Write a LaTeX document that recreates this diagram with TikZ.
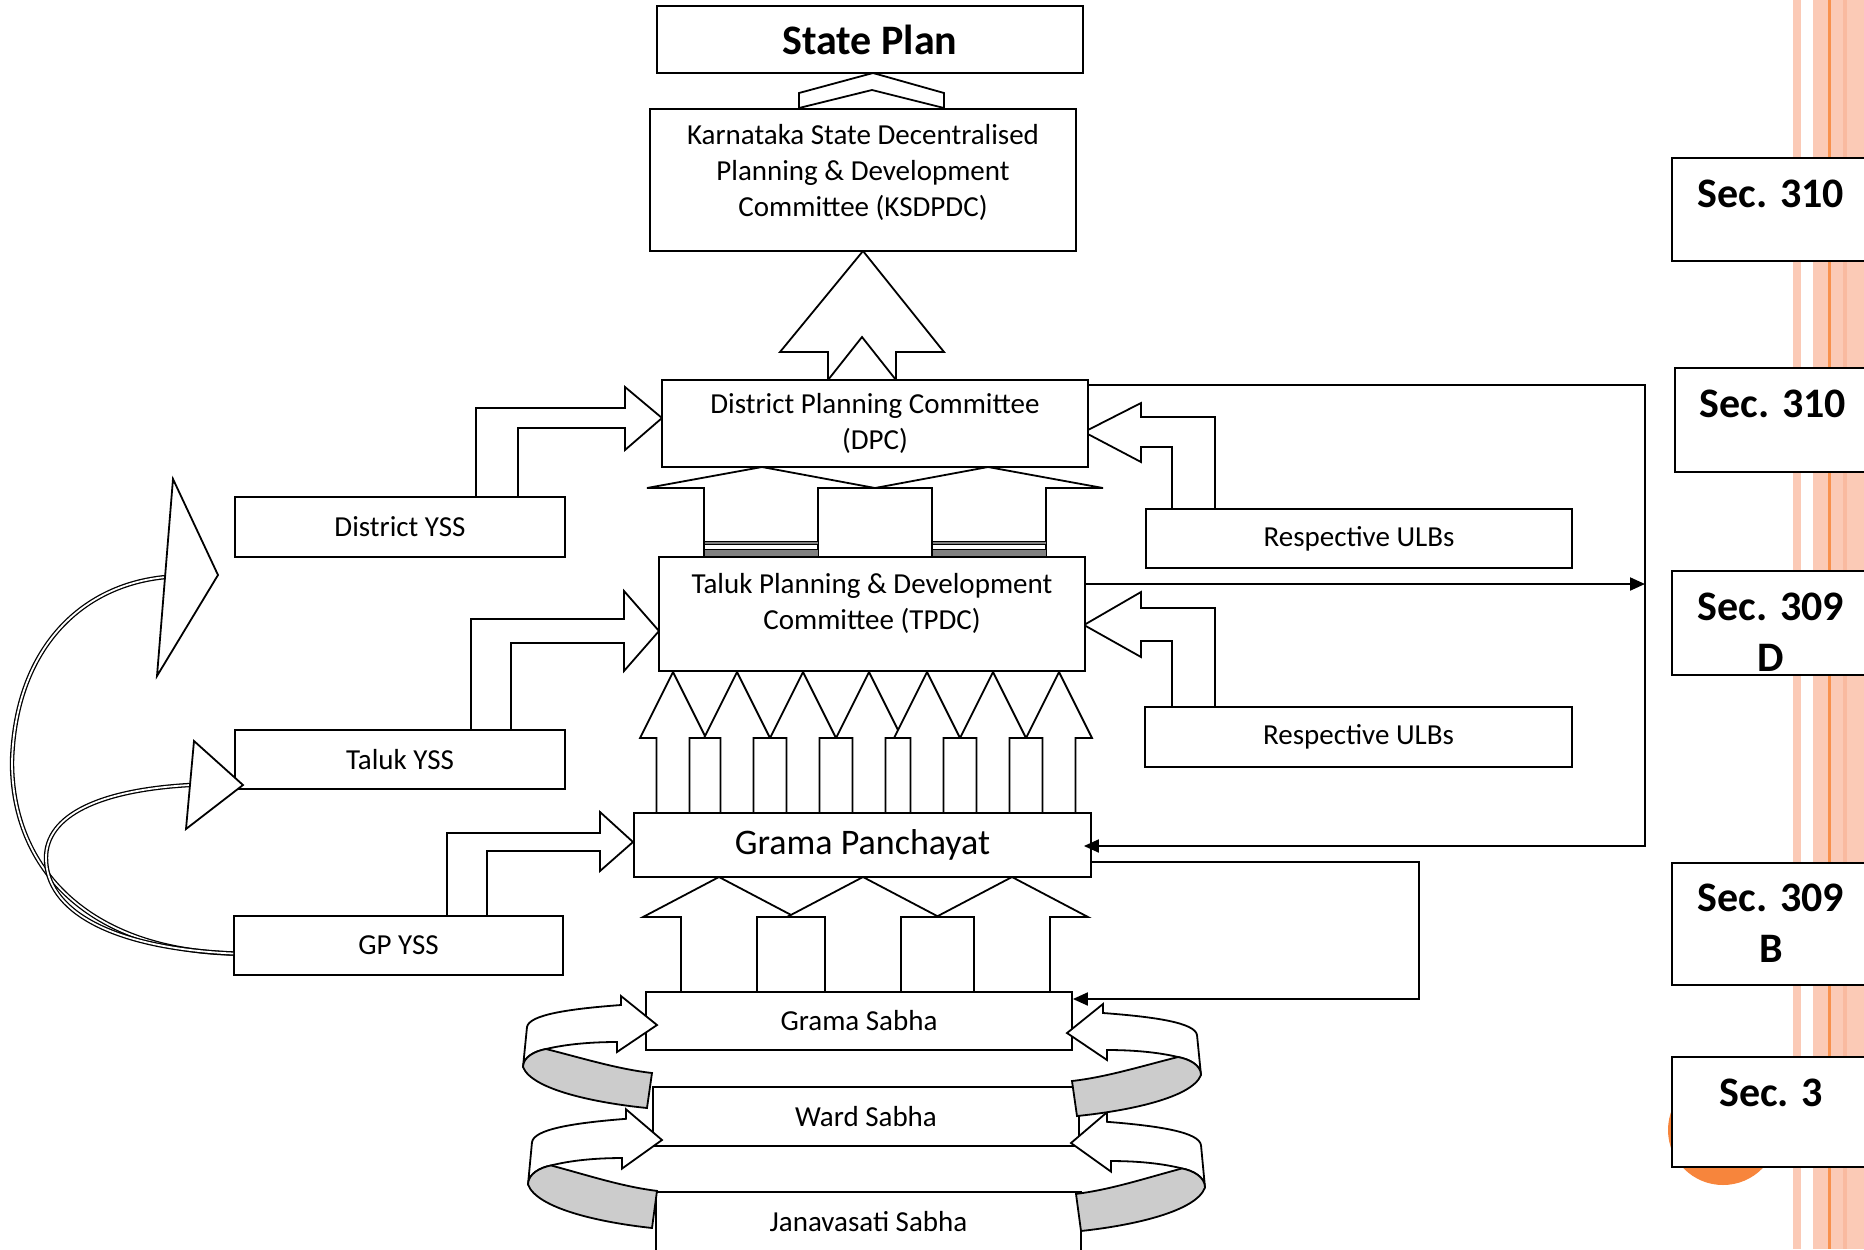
\documentclass[tikz,border=0pt]{standalone}
\usepackage{fontspec}
\setmainfont{Carlito}
\usetikzlibrary{arrows.meta,calc}

\definecolor{peach}{HTML}{FBCAB6}
\definecolor{peachdeep}{HTML}{F9BAA0}
\definecolor{orangeline}{HTML}{F8914D}
\definecolor{orangedot}{HTML}{F7853C}
\definecolor{bandgray}{HTML}{CCCCCC}

\tikzset{
	box/.style 2 args={draw=black, fill=white, inner sep=0pt, minimum width=#1*0.5pt, minimum height=#2*0.5pt},
	txt/.style={font=\fontsize{14.5}{18}\selectfont, align=center, inner sep=0pt},
	gptxt/.style={font=\fontsize{18}{21}\selectfont, align=center, inner sep=0pt},
	plantxt/.style={font=\bfseries\fontsize{21}{25}\selectfont, inner sep=0pt},
	sectxt/.style={font=\bfseries\fontsize{21}{25.5}\selectfont, align=center, inner sep=0pt},
	blk/.style={draw=black, fill=white},
	stripe/.style={draw=black, fill=black!50, line width=0.5pt},
	band/.style={draw=black, line width=0.65pt, double=white, double distance=0.9pt},
	link/.style={draw=black, line width=1pt},
	arrowend/.style={-{Triangle[length=7.5pt, width=6.5pt]}},
	sabharing/.pic={
		\draw[fill=white] (0,0) -- (-36,-29) -- (-36,-20) .. controls (-90,-16) and (-128,-10) .. (-130,2) -- (-134,42) .. controls (-134,32) and (-122,26) .. (-111,24) .. controls (-90,19) and (-65,17) .. (-40,17) -- (-40,27) -- cycle;
		\draw[fill=bandgray] (-111,24) .. controls (-75,33) and (-40,44) .. (-5,48) -- (-10,83) .. controls (-60,78) and (-125,65) .. (-134,42) .. controls (-134,32) and (-122,26) .. (-111,24) -- cycle;
	}
}

\begin{document}
\begin{tikzpicture}[x=0.5pt, y=-0.5pt, line width=0.9pt, line join=miter]
	
	\useasboundingbox (0,0) rectangle (1864,1249);
	\clip (0,0) rectangle (1864,1249);
	
	\fill[peach] (1793,0) rectangle (1801,1249);
	\fill[peach] (1813,0) rectangle (1864,1249);
	\fill[peachdeep] (1843,0) rectangle (1847,1249);
	\fill[orangeline] (1828,0) rectangle (1830.5,1249);
	\fill[orangedot] (1723,1130) circle[radius=55];
	
	\node[box={208}{103}] (sec1) at (1776,209.5) {};
	\node[box={205}{104}] (sec2) at (1777.5,420) {};
	\node[box={208}{104}] (sec3) at (1776,623) {};
	\node[box={208}{122}] (sec4) at (1776,924) {};
	\node[box={208}{110}] (sec5) at (1776,1112) {};
	\node[sectxt] (sec1text) at (1771,194) {Sec. 310};
	\node[sectxt] (sec2text) at (1773,404) {Sec. 310};
	\node[sectxt] (sec3text) at (1771,632.5) {Sec. 309\\D};
	\node[sectxt] (sec4text) at (1771,923) {Sec. 309\\B};
	\node[sectxt] (sec5text) at (1771,1093) {Sec. 3};
	
	\node[box={330}{60}, txt] (dyss) at (400,527) {District YSS};
	\node[box={330}{59}, txt] (tyss) at (400,759.5) {Taluk YSS};
	\node[box={329}{59}, txt] (gpyss) at (398.5,945.5) {GP YSS};
	
	\coordinate (bighead) at (166,577);
	\coordinate (smallhead) at (190,785);
	\draw[band] ([yshift=-4pt]gpyss.west) .. controls (90,950) and (12,870) .. (12,762) .. controls (15,650) and (80,585) .. (bighead);
	\draw[band] ([yshift=-4pt]gpyss.west) .. controls (110,948) and (46,910) .. (46,858) .. controls (46,815) and (100,790) .. (smallhead);
	\draw[blk] (173,479) -- (218,575) -- (157,676) -- cycle;
	\draw[blk] (194,741) -- (243,785) -- (186,829) -- cycle;
	
	\draw[blk] (799,108) -- (799,93) -- (873,73) -- (944,93) -- (944,108) -- (872,90) -- cycle;
	\draw[blk] (828,380) -- (828,352) -- (780,352) -- (863,251) -- (944,352) -- (896,352) -- (896,380) -- (862,337) -- cycle;
	
	\draw[blk] (704,557) -- (704,488) -- (647,488) -- (762,467) -- (875,488) -- (818,488) -- (818,557) -- cycle;
	\draw[blk] (932,557) -- (932,488) -- (875,488) -- (988,467) -- (1103,488) -- (1046,488) -- (1046,557) -- cycle;
	\foreach \x in {704,932} {
		\draw[stripe] (\x,541) rectangle (\x+114,544);
		\draw[stripe] (\x,549) rectangle (\x+114,556);
	}
	
	\foreach \x in {673,737,803,869,927,993,1059}
		\draw[blk] (\x-16.5,813) -- (\x-16.5,738) -- (\x-33,738) -- (\x,672) -- (\x+33,738) -- (\x+16.5,738) -- (\x+16.5,813) -- cycle;
	
	\foreach \x in {719,863,1012}
		\draw[blk] (\x-38,992) -- (\x-38,917) -- (\x-76,917) -- (\x,877) -- (\x+76,917) -- (\x+38,917) -- (\x+38,992) -- cycle;
	
	\draw[blk] (476,497) -- (476,408) -- (625,408) -- (625,387) -- (662,418) -- (625,450) -- (625,428) -- (518,428) -- (518,497) -- cycle;
	\draw[blk] (471,730) -- (471,619) -- (624,619) -- (624,591) -- (659,631) -- (624,671) -- (624,643) -- (511,643) -- (511,730) -- cycle;
	\draw[blk] (447,916) -- (447,833) -- (600,833) -- (600,812) -- (633,842) -- (600,871) -- (600,851) -- (487,851) -- (487,916) -- cycle;
	
	\draw[blk] (1215,509) -- (1215,417) -- (1141,417) -- (1141,403) -- (1084,432) -- (1141,462) -- (1141,447) -- (1172,447) -- (1172,509) -- cycle;
	\draw[blk] (1215,707) -- (1215,608) -- (1141,608) -- (1141,592) -- (1084,625) -- (1141,657) -- (1141,641) -- (1172,641) -- (1172,707) -- cycle;
	
	\node[box={426}{67}, plantxt] (state) at (870,39.5) {State Plan};
	\node[box={426}{142}] (ksdpdc) at (863,180) {};
	\node[txt] (ksdpdctext) at (863,172) {Karnataka State Decentralised\\Planning \& Development\\Committee (KSDPDC)};
	\node[box={426}{87}, txt] (dpc) at (875,423.5) {District Planning Committee\\(DPC)};
	\node[box={426}{114}] (tpdc) at (872,614) {};
	\node[txt] (tpdctext) at (872,603.5) {Taluk Planning \& Development\\Committee (TPDC)};
	\node[box={457}{64}, gptxt] (gp) at (862.5,845) {Grama Panchayat};
	\node[box={426}{58}, txt] (gs) at (859,1021) {Grama Sabha};
	\node[box={426}{59}, txt] (ws) at (866,1116.5) {Ward Sabha};
	\node[box={425}{60}, txt] (js) at (868.5,1222) {Janavasati Sabha};
	
	\node[box={426}{59}, txt] (ulb1) at (1359,538.5) {Respective ULBs};
	\node[box={427}{60}, txt] (ulb2) at (1358.5,737) {Respective ULBs};
	
	\coordinate (dpcout) at (1645,385);
	\coordinate (gpin) at (1645,846);
	\coordinate (tpdcout) at (1645,584);
	\coordinate (gpout) at (1419,862);
	\coordinate (gsin) at (1419,999);
	\draw[link, arrowend] (dpc.east |- dpcout) -- (dpcout) -- (gpin) -- ($(gp.east |- gpin)+(-8,0)$);
	\draw[link, arrowend] (tpdc.east |- tpdcout) -- (tpdcout);
	\draw[link, arrowend] (gp.east |- gpout) -- (gpout) -- (gsin) -- (gs.east |- gsin);
	
	\pic[yscale=1.06] at (662,1140) {sabharing};
	\pic[xscale=-1, yscale=1.06] at (1071,1143) {sabharing};
	\pic at (657,1025) {sabharing};
	\pic[xscale=-1] at (1067,1033) {sabharing};
	
\end{tikzpicture}
\end{document}
